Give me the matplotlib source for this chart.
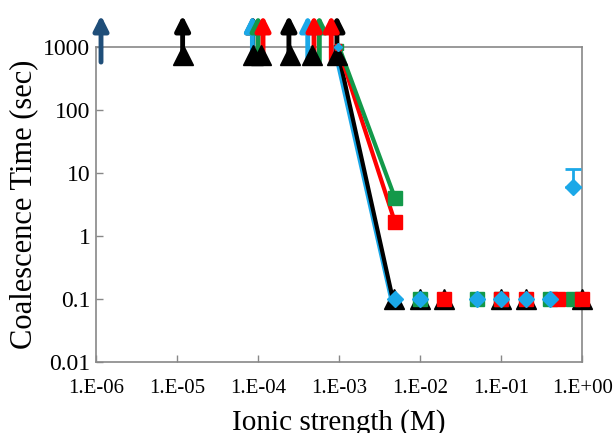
import numpy as np
import matplotlib.pyplot as plt

plt.rcParams['font.family'] = ['Liberation Serif', 'DejaVu Serif']

# colours of the four series (+ one dark blue arrow)
c_black = '#000000'
c_red = '#ff0000'
c_green = '#13994a'
c_blue = '#1ba8e8'
c_navy = '#1f4e79'

# descending lines: (start x, start y) -> (end x, end y)
line_x = {'blue': [8.7e-4, 4.4e-3], 'black': [9.4e-4, 4.6e-3],
          'red': [9.7e-4, 4.9e-3], 'green': [1.0e-3, 4.9e-3]}
line_y = {'blue': [1000, 0.1], 'black': [1000, 0.1],
          'red': [1000, 1.65], 'green': [1000, 4.0]}

# points where the lines start (drawn small at 1000 s)
start_x = {'red': 9.8e-4, 'green': 1.02e-3, 'blue': 9.6e-4}
start_y = 1000

# points on the 0.1 s floor and others
black_x = [4.7e-3, 1.0e-2, 2.0e-2, 1.0e-1, 2.0e-1, 1.0]
black_y = [0.1, 0.1, 0.1, 0.1, 0.1, 0.1]
red_x = [4.9e-3, 2.0e-2, 1.0e-1, 2.0e-1, 0.5, 1.0]
red_y = [1.65, 0.1, 0.1, 0.1, 0.1, 0.1]
green_x = [4.9e-3, 1.0e-2, 5.0e-2, 1.0e-1, 0.4, 0.78]
green_y = [4.0, 0.1, 0.1, 0.1, 0.1, 0.1]
blue_x = [4.9e-3, 1.0e-2, 5.0e-2, 1.0e-1, 2.0e-1, 0.4, 0.78]
blue_y = [0.1, 0.1, 0.1, 0.1, 0.1, 0.1, 6.0]
blue_err_hi = 11.5  # upper error bar end for the last blue point

# "no coalescence" markers / arrows above 1000 s
black_top_x = [1.17e-5, 8.6e-5, 1.1e-4, 2.5e-4, 4.6e-4, 9.4e-4]
black_top_y = [750, 750, 750, 750, 750, 750]
arrows = [
    (c_navy, [1.15e-6]),
    (c_black, [1.17e-5, 8.6e-5, 2.4e-4, 9.4e-4]),
    (c_blue, [8.5e-5, 4.1e-4]),
    (c_green, [1.0e-4, 5.7e-4]),
    (c_red, [1.15e-4, 4.9e-4, 8.0e-4]),
]
arrow_base = 580
arrow_tip = 3200

xticks = [1e-6, 1e-5, 1e-4, 1e-3, 1e-2, 1e-1, 1]
xlabels = ['1.E-06', '1.E-05', '1.E-04', '1.E-03', '1.E-02', '1.E-01', '1.E+00']
yticks = [0.01, 0.1, 1, 10, 100, 1000]
ylabels = ['0.01', '0.1', '1', '10', '100', '1000']

fig = plt.figure(figsize=(6.16, 4.33), dpi=100)
ax = fig.add_axes([0.156, 0.164, 0.789, 0.727])
ax.set_xscale('log')
ax.set_yscale('log')
ax.set_xlim(1e-6, 1)
ax.set_ylim(0.01, 1000)

# arrows
for col, xs in arrows:
    for x in xs:
        ax.annotate('', xy=(x, arrow_tip), xytext=(x, arrow_base),
                    arrowprops=dict(arrowstyle='-|>', lw=3.5, color=col,
                                    mutation_scale=22, shrinkA=0, shrinkB=0),
                    annotation_clip=False, zorder=3)

ax.plot(black_top_x, black_top_y, ls='none', marker='^', ms=14, color=c_black,
        clip_on=False, zorder=4)

for key, col in [('blue', c_blue), ('black', c_black), ('red', c_red), ('green', c_green)]:
    ax.plot(line_x[key], line_y[key], color=col, lw=3, clip_on=False, zorder=2)

ax.plot([start_x['green']], [start_y], ls='none', marker='s', ms=5, color=c_green,
        clip_on=False, zorder=6)
ax.plot([start_x['red']], [start_y], ls='none', marker='s', ms=5, color=c_red,
        clip_on=False, zorder=6)
ax.plot([start_x['blue']], [start_y], ls='none', marker='D', ms=4, color=c_blue,
        clip_on=False, zorder=7)

ax.plot(black_x, black_y, ls='none', marker='^', ms=15, color=c_black,
        clip_on=False, zorder=5)
ax.plot(green_x, green_y, ls='none', marker='s', ms=10, color=c_green,
        clip_on=False, zorder=6)
ax.plot(red_x, red_y, ls='none', marker='s', ms=10, color=c_red,
        clip_on=False, zorder=6)
ax.errorbar([blue_x[-1]], [blue_y[-1]], yerr=[[0], [blue_err_hi - blue_y[-1]]],
            fmt='none', ecolor=c_blue, elinewidth=2, capsize=6, capthick=2, zorder=7)
ax.plot(blue_x, blue_y, ls='none', marker='D', ms=8, color=c_blue,
        clip_on=False, zorder=7)

ax.set_xticks(xticks)
ax.set_xticklabels(xlabels, fontsize=15)
ax.set_yticks(yticks)
ax.set_yticklabels(ylabels, fontsize=17)
ax.minorticks_off()
ax.tick_params(direction='in', length=5, color='#888888', width=1)
ax.tick_params(axis='x', pad=12)
ax.tick_params(axis='y', pad=4)
for sp in ax.spines.values():
    sp.set_color('#888888')
    sp.set_linewidth(1.2)

ax.set_xlabel('Ionic strength (M)', fontsize=21, labelpad=8)
ax.set_ylabel('Coalescence Time (sec)', fontsize=22, labelpad=4)

fig.savefig('out.png', dpi=100)
